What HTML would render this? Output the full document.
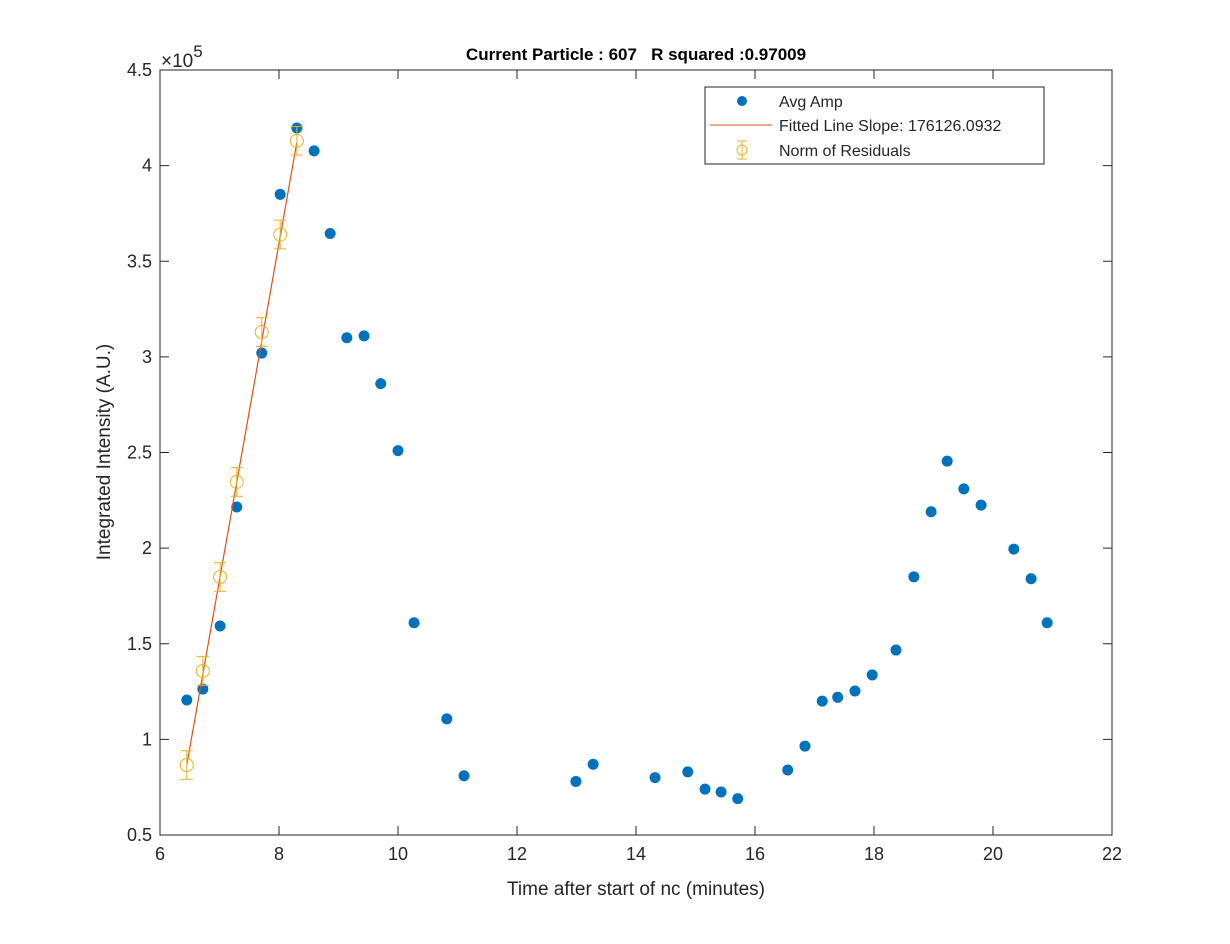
<!DOCTYPE html>
<html><head><meta charset="utf-8"><style>
body{margin:0;background:#fff;}
svg text{font-family:"Liberation Sans",Arial,sans-serif;fill:#262626;white-space:pre;}
</style></head><body>
<svg id="chart" width="1230" height="939" xmlns="http://www.w3.org/2000/svg">
<rect width="1230" height="939" fill="#fff"/>
<g id="axes"></g>
<g id="marks"></g>
<text x="636" y="60" text-anchor="middle" font-size="17" font-weight="bold" style="fill:#000" xml:space="preserve">Current Particle : 607   R squared :0.97009</text>
<text x="636" y="895" text-anchor="middle" font-size="19">Time after start of nc (minutes)</text>
<text transform="translate(110,452) rotate(-90)" text-anchor="middle" font-size="19">Integrated Intensity (A.U.)</text>
<text x="161" y="67" font-size="19">×10<tspan dy="-10" font-size="17">5</tspan></text>
<g>
<rect x="705" y="87" width="339" height="77" fill="#fff" stroke="#262626" stroke-width="1"/>
<circle cx="742" cy="101" r="5" fill="#0072BD"/>
<text x="779" y="107" font-size="16">Avg Amp</text>
<line x1="710" y1="125" x2="772" y2="125" stroke="#D95319" stroke-width="1"/>
<text x="779" y="131" font-size="16">Fitted Line Slope: 176126.0932</text>
<g stroke="#EDB120" fill="none">
<line x1="742" y1="141" x2="742" y2="159"/><line x1="737" y1="141" x2="747" y2="141"/><line x1="737" y1="159" x2="747" y2="159"/><circle cx="742" cy="150" r="5"/></g>
<text x="779" y="156" font-size="16">Norm of Residuals</text>
</g>
</svg>
<script>
const xTicks=[6,8,10,12,14,16,18,20,22];
const yTicks=[0.5,1,1.5,2,2.5,3,3.5,4,4.5];
const yTickLabels=["0.5","1","1.5","2","2.5","3","3.5","4","4.5"];
const avgX=[6.45,6.72,7.01,7.29,7.71,8.02,8.30,8.59,8.86,9.14,9.43,9.71,10.0,10.27,10.82,11.11,12.99,13.28,14.32,14.87,15.16,15.43,15.71,16.55,16.84,17.13,17.39,17.68,17.97,18.37,18.67,18.96,19.23,19.51,19.80,20.35,20.64,20.91];
const avgY=[1.206,1.263,1.593,2.215,3.02,3.85,4.197,4.077,3.645,3.10,3.11,2.86,2.51,1.61,1.107,0.81,0.78,0.87,0.80,0.83,0.74,0.725,0.69,0.84,0.965,1.20,1.22,1.253,1.337,1.467,1.85,2.19,2.455,2.31,2.225,1.995,1.84,1.61];
const resX=[6.45,6.72,7.01,7.29,7.71,8.02,8.30];
const resY=[0.866,1.358,1.849,2.346,3.13,3.64,4.13];
const resErr=[0.075,0.075,0.075,0.075,0.075,0.075,0.075];
const fitX=[6.45,8.30];
const fitY=[0.866,4.122];
const NS="http://www.w3.org/2000/svg";
const L=160,R=1112,T=70,B=835;
const sx=v=>L+(v-6)/16*(R-L);
const sy=v=>B-(v-0.5)/4*(B-T);
function mk(tag,attrs,parent){const e=document.createElementNS(NS,tag);for(const k in attrs)e.setAttribute(k,attrs[k]);parent.appendChild(e);return e;}
const ax=document.getElementById('axes'),mg=document.getElementById('marks');
const fr=mk('rect',{x:L,y:T,width:R-L,height:B-T,fill:'none',stroke:'#262626','stroke-width':1},ax);


xTicks.forEach(t=>{const x=sx(t);
mk('line',{x1:x,y1:B,x2:x,y2:B-9,stroke:'#262626'},ax);
mk('line',{x1:x,y1:T,x2:x,y2:T+9,stroke:'#262626'},ax);
const tx=mk('text',{x:x,y:B+25,'text-anchor':'middle','font-size':18},ax);tx.textContent=t;

});
yTicks.forEach((t,i)=>{const y=sy(t);
mk('line',{x1:L,y1:y,x2:L+9,y2:y,stroke:'#262626'},ax);
mk('line',{x1:R,y1:y,x2:R-9,y2:y,stroke:'#262626'},ax);
const tx=mk('text',{x:L-8,y:y+6,'text-anchor':'end','font-size':18},ax);tx.textContent=yTickLabels[i];

});
avgX.forEach((x,i)=>{const c=mk('circle',{cx:sx(x),cy:sy(avgY[i]),r:5.5,fill:'#0072BD'},mg);

});
const fl=mk('line',{x1:sx(fitX[0]),y1:sy(fitY[0]),x2:sx(fitX[1]),y2:sy(fitY[1]),stroke:'#D95319','stroke-width':1.2},mg);


resX.forEach((x,i)=>{const g=mk('g',{stroke:'#EDB120',fill:'none'},mg);


const cx=sx(x);
const top=sy(resY[i]+resErr[i]), bot=sy(resY[i]-resErr[i]);
mk('line',{x1:cx,y1:top,x2:cx,y2:bot},g);
mk('line',{x1:cx-6,y1:top,x2:cx+6,y2:top},g);
mk('line',{x1:cx-6,y1:bot,x2:cx+6,y2:bot},g);
mk('circle',{cx:cx,cy:sy(resY[i]),r:6.5},g);});
</script>
</body></html>
